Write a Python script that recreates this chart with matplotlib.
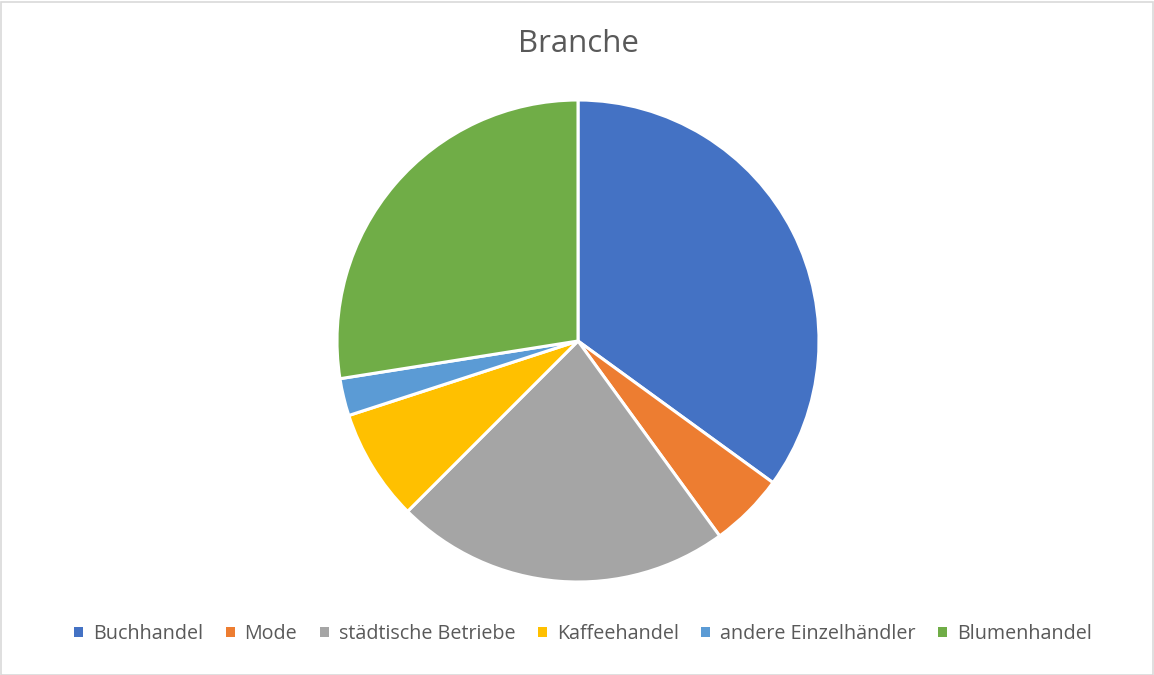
import matplotlib
matplotlib.use("Agg")
import matplotlib.pyplot as plt
from matplotlib.patches import Patch, Rectangle

categories = ["Buchhandel", "Mode", "städtische Betriebe", "Kaffeehandel",
              "andere Einzelhändler", "Blumenhandel"]
values = [14, 2, 9, 3, 1, 11]
colors = ["#4472C4", "#ED7D31", "#A5A5A5", "#FFC000", "#5B9BD5", "#70AD47"]
title = "Branche"

plt.rcParams['font.family'] = ['Open Sans', 'DejaVu Sans']

W, H = 1154, 675
fig = plt.figure(figsize=(W / 100, H / 100), dpi=100)
fig.patch.set_facecolor("white")

cx, cy, r = 578, 341, 241
ax = fig.add_axes([(cx - r) / W, (H - cy - r) / H, 2 * r / W, 2 * r / H])
ax.pie(values, colors=colors, startangle=90, counterclock=False,
       wedgeprops=dict(edgecolor="white", linewidth=2.2), radius=1.0)
ax.set_xlim(-1, 1)
ax.set_ylim(-1, 1)
ax.set_aspect("equal")
ax.axis("off")

fig.text(578 / W, 1 - 44 / H, title, ha="center", va="center",
         fontsize=22.5, color="#595959")

handles = [Patch(facecolor=c, edgecolor="none") for c in colors]
leg = fig.legend(handles, categories, loc="center", bbox_to_anchor=(583 / W, 1 - 634 / H),
                 ncol=6, frameon=False, fontsize=14.2, handlelength=0.45, handleheight=0.45,
                 handletextpad=0.5, columnspacing=1.15, labelcolor="#595959")

fig.add_artist(Rectangle((0.5 / W, 0.5 / H), 1 - 2 / W, 1 - 2.5 / H, transform=fig.transFigure,
                         fill=False, edgecolor="#D9D9D9", linewidth=1.2))

fig.savefig("out.png", dpi=100, facecolor="white")
